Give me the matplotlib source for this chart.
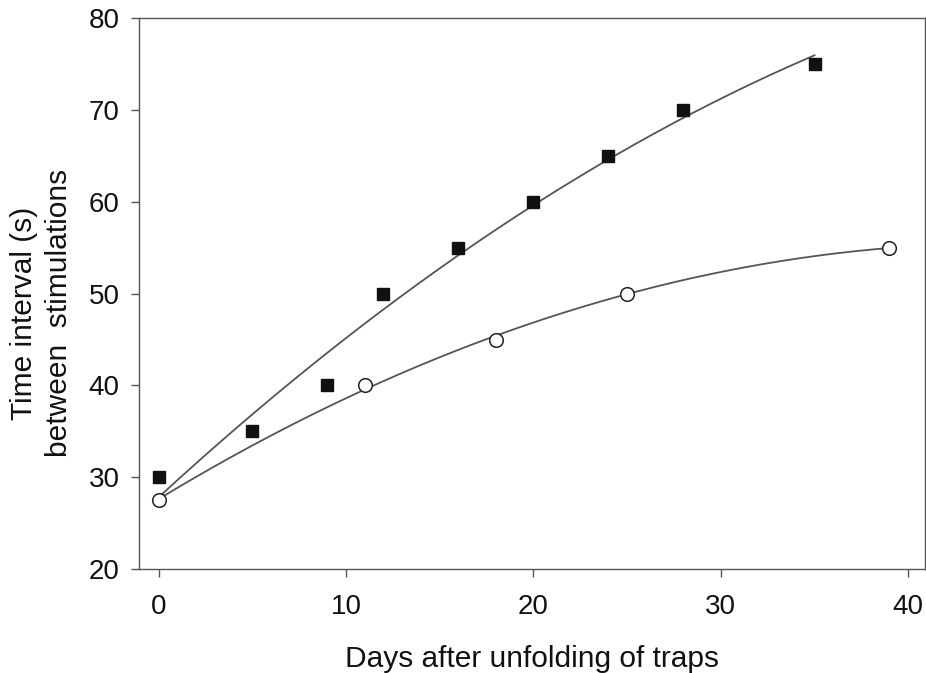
import numpy as np
import matplotlib
matplotlib.use("Agg")
import matplotlib.pyplot as plt

plt.rcParams['font.family'] = ['Liberation Sans', 'DejaVu Sans']

# Mature traps (filled squares)
days_filled = [0, 5, 9, 12, 16, 20, 24, 28, 35]
interval_filled = [30, 35, 40, 50, 55, 60, 65, 70, 75]

# Young traps (open circles)
days_open = [0, 11, 18, 25, 39]
interval_open = [27.5, 40, 45, 50, 55]

x_ticks = [0, 10, 20, 30, 40]
y_ticks = [20, 30, 40, 50, 60, 70, 80]

fig = plt.figure(figsize=(9.26, 6.73), dpi=100)
ax = fig.add_axes([0.150, 0.1545, 0.849, 0.8185])

# Quadratic trend curves fitted to each series
for xs, ys in [(days_filled, interval_filled), (days_open, interval_open)]:
    coef = np.polyfit(xs, ys, 2)
    xx = np.linspace(min(xs), max(xs), 200)
    ax.plot(xx, np.polyval(coef, xx), color='#555555', lw=1.3, zorder=2)

ax.plot(days_filled, interval_filled, ls='none', marker='s', ms=8.6,
        mfc='#111111', mec='#111111', zorder=3)
ax.plot(days_open, interval_open, ls='none', marker='o', ms=9.8,
        mfc='white', mec='#222222', mew=1.1, zorder=3)

ax.set_xlim(-1.05, 40.9)
ax.set_ylim(20, 80)
ax.set_xticks(x_ticks)
ax.set_yticks(y_ticks)

for s in ax.spines.values():
    s.set_color('#555555')
    s.set_linewidth(1.0)

ax.tick_params(axis='both', direction='out', length=6, width=1.0,
               color='#555555', labelsize=20, labelcolor='#111111')
ax.tick_params(axis='x', pad=12)
ax.tick_params(axis='y', pad=8)

ax.set_xlabel('Days after unfolding of traps', fontsize=21.5, color='#111111', labelpad=18)
ax.set_ylabel('Time interval (s)\nbetween  stimulations', fontsize=21.5,
              color='#111111', linespacing=1.3)
ax.yaxis.set_label_coords(-0.084, 0.465)

fig.savefig('out.png', dpi=100)
